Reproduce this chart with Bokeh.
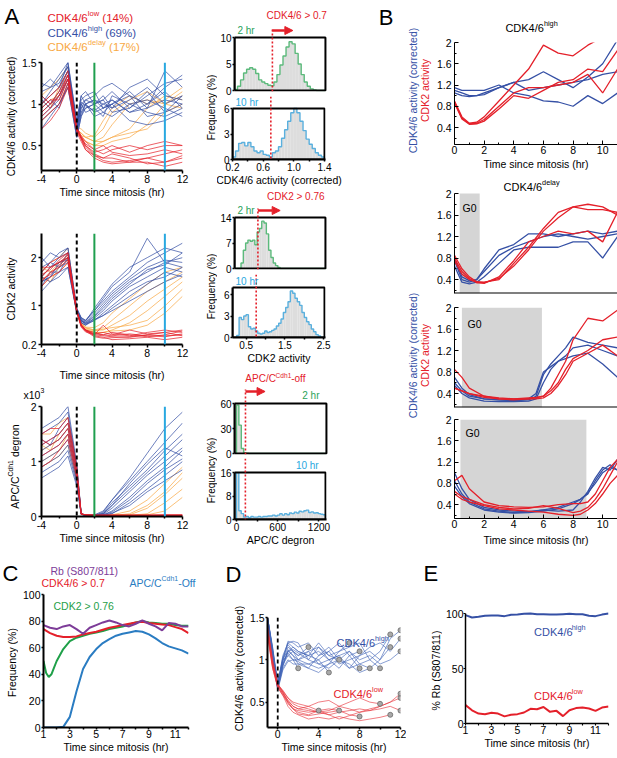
import math
from bokeh.plotting import figure
from bokeh.layouts import row, column
from bokeh.models import Range1d, FixedTicker, Span, Label, Arrow, NormalHead
from bokeh.embed import file_html
from bokeh.resources import INLINE

FONT = "Liberation Sans"
RED = "#e4202a"; BLUE = "#3550a5"; ORANGE = "#f8a945"; VGREEN = "#1f9f4f"; CYAN = "#29a8e0"
HGREEN = "#5cba7c"; HBLUE = "#5ab0de"; HFILL = "#dddddd"; TGREEN = "#2aa25a"
PURPLE = "#7d3c98"; CGREEN = "#1fa049"; CBLUE = "#2a7cc2"
DBLUE = "#4466b8"; DRED = "#e8343c"

# ---------------- data: panel A ----------------
t_A = [-4, -3, -2, -1, 0, 0.5, 1, 2, 3, 4, 6, 8, 10, 12]
a1_high = [
    [1.0, 1.1, 1.2, 1.4, 0.7, 0.95, 1.05, 1.0, 1.1, 0.95, 1.05, 1.2, 1.0, 1.1],
    [0.9, 1.0, 1.1, 1.3, 0.65, 0.9, 1.0, 0.9, 0.95, 1.05, 0.9, 1.0, 1.15, 0.95],
    [1.15, 1.2, 1.25, 1.45, 0.75, 1.05, 1.1, 1.15, 0.95, 1.0, 1.1, 0.85, 0.9, 1.0],
    [0.8, 0.9, 1.0, 1.2, 0.6, 0.85, 0.95, 1.0, 1.05, 0.9, 0.95, 1.1, 1.25, 1.3],
    [1.05, 0.95, 1.1, 1.35, 0.7, 1.0, 0.9, 0.95, 0.85, 1.1, 1.0, 0.9, 0.85, 0.95],
    [1.2, 1.3, 1.2, 1.5, 0.8, 1.1, 1.0, 1.05, 1.0, 0.95, 1.2, 1.3, 1.1, 1.05],
    [0.95, 1.05, 0.95, 1.25, 0.7, 0.95, 1.0, 0.85, 0.9, 1.0, 0.8, 0.75, 0.8, 0.9],
    [1.1, 1.0, 1.15, 1.4, 0.75, 1.0, 1.05, 1.1, 1.2, 1.25, 1.1, 1.0, 1.2, 1.35],
    [0.85, 0.95, 1.05, 1.3, 0.65, 0.9, 0.95, 1.0, 0.9, 0.85, 1.0, 1.05, 0.95, 0.85],
    [1.0, 1.15, 1.3, 1.45, 0.72, 1.02, 0.98, 0.92, 1.0, 1.05, 0.9, 0.95, 1.4, 1.2],
    [0.7, 0.85, 1.0, 1.2, 0.6, 0.85, 1.0, 1.05, 0.95, 1.0, 1.15, 0.95, 1.05, 1.0],
    [1.25, 1.2, 1.35, 1.5, 0.78, 1.1, 1.15, 1.0, 1.05, 1.15, 0.95, 1.15, 0.9, 1.1],
]
a1_delay = [
    [1.0, 1.1, 1.2, 1.4, 0.7, 0.65, 0.6, 0.55, 0.6, 0.75, 1.0, 1.05, 1.0, 1.1],
    [0.9, 1.0, 1.15, 1.35, 0.68, 0.6, 0.55, 0.5, 0.55, 0.6, 0.7, 0.95, 1.1, 1.05],
    [1.1, 1.2, 1.3, 1.45, 0.72, 0.7, 0.65, 0.6, 0.7, 0.9, 1.05, 1.15, 1.0, 0.95],
    [0.8, 0.9, 1.0, 1.25, 0.65, 0.6, 0.55, 0.5, 0.5, 0.55, 0.6, 0.75, 1.0, 1.15],
    [0.95, 1.05, 1.1, 1.3, 0.7, 0.62, 0.6, 0.62, 0.8, 0.95, 1.1, 1.0, 1.05, 1.2],
    [1.05, 0.95, 1.2, 1.4, 0.7, 0.65, 0.6, 0.55, 0.55, 0.6, 0.65, 0.7, 0.9, 1.0],
]
a1_low = [
    [0.9, 1.0, 1.1, 1.3, 0.7, 0.6, 0.5, 0.4, 0.35, 0.35, 0.3, 0.35, 0.4, 0.45],
    [1.0, 1.1, 1.2, 1.4, 0.72, 0.62, 0.55, 0.45, 0.4, 0.45, 0.5, 0.45, 0.5, 0.5],
    [0.8, 0.9, 1.0, 1.25, 0.68, 0.58, 0.45, 0.35, 0.3, 0.28, 0.3, 0.3, 0.25, 0.3],
    [1.1, 1.0, 1.15, 1.35, 0.7, 0.6, 0.5, 0.42, 0.45, 0.5, 0.42, 0.5, 0.55, 0.5],
    [0.7, 0.8, 0.95, 1.2, 0.66, 0.55, 0.45, 0.38, 0.35, 0.4, 0.35, 0.28, 0.3, 0.35],
    [0.95, 1.05, 1.05, 1.3, 0.7, 0.6, 0.52, 0.45, 0.5, 0.42, 0.38, 0.4, 0.45, 0.4],
    [0.85, 0.95, 1.1, 1.35, 0.7, 0.58, 0.48, 0.38, 0.32, 0.3, 0.32, 0.35, 0.3, 0.38],
]
a2_high = [
    [1.6, 1.8, 1.9, 2.0, 0.9, 0.7, 0.65, 0.8, 1.0, 1.2, 1.5, 1.7, 1.9, 2.0],
    [1.5, 1.6, 1.8, 1.9, 0.85, 0.65, 0.6, 0.75, 0.9, 1.1, 1.4, 1.6, 1.8, 1.7],
    [1.8, 1.9, 2.1, 2.2, 0.95, 0.75, 0.7, 0.9, 1.1, 1.3, 1.6, 1.9, 2.1, 2.3],
    [1.4, 1.7, 1.7, 1.8, 0.88, 0.7, 0.62, 0.7, 0.85, 1.0, 1.3, 1.5, 1.6, 1.8],
    [2.0, 1.8, 2.0, 2.1, 0.92, 0.72, 0.66, 0.85, 1.05, 1.25, 1.55, 1.8, 1.95, 1.9],
    [1.6, 1.5, 1.7, 2.0, 0.9, 0.68, 0.64, 0.72, 0.8, 0.95, 1.2, 1.45, 1.7, 1.6],
    [1.7, 1.9, 1.8, 2.1, 0.93, 0.74, 0.68, 0.95, 1.2, 1.45, 1.8, 2.0, 2.2, 2.1],
    [1.5, 1.6, 1.9, 1.95, 0.87, 0.7, 0.63, 0.78, 0.95, 1.15, 1.45, 1.75, 1.85, 2.1],
    [1.3, 1.5, 1.6, 1.8, 0.85, 0.66, 0.6, 0.7, 0.8, 0.9, 1.1, 1.3, 1.5, 1.65],
    [1.9, 2.1, 2.0, 2.2, 0.95, 0.76, 0.7, 0.9, 1.15, 1.4, 1.7, 2.4, 1.9, 1.8],
]
a2_delay = [
    [1.6, 1.8, 1.9, 2.0, 0.9, 0.65, 0.55, 0.5, 0.55, 0.7, 1.0, 1.3, 1.5, 1.7],
    [1.5, 1.7, 1.8, 2.1, 0.88, 0.62, 0.5, 0.45, 0.45, 0.5, 0.65, 0.9, 1.2, 1.5],
    [1.7, 1.9, 2.0, 2.2, 0.92, 0.66, 0.56, 0.55, 0.65, 0.85, 1.15, 1.45, 1.7, 1.8],
    [1.4, 1.6, 1.7, 1.9, 0.86, 0.6, 0.5, 0.45, 0.45, 0.48, 0.5, 0.6, 0.85, 1.2],
    [1.8, 1.7, 1.9, 2.0, 0.9, 0.64, 0.54, 0.5, 0.5, 0.6, 0.8, 1.1, 1.35, 1.6],
    [1.6, 1.5, 1.8, 1.95, 0.88, 0.63, 0.52, 0.48, 0.52, 0.55, 0.6, 0.7, 1.0, 1.35],
]
a2_low = [
    [1.6, 1.8, 1.9, 2.0, 0.9, 0.6, 0.5, 0.4, 0.38, 0.36, 0.35, 0.4, 0.38, 0.4],
    [1.5, 1.7, 1.8, 1.95, 0.88, 0.58, 0.48, 0.42, 0.45, 0.4, 0.5, 0.42, 0.45, 0.5],
    [1.7, 1.9, 2.0, 2.1, 0.9, 0.62, 0.5, 0.38, 0.35, 0.3, 0.32, 0.35, 0.3, 0.35],
    [1.4, 1.6, 1.7, 1.9, 0.86, 0.56, 0.46, 0.4, 0.6, 0.42, 0.38, 0.45, 0.5, 0.45],
    [1.8, 1.8, 1.9, 2.05, 0.92, 0.6, 0.5, 0.45, 0.4, 0.38, 0.42, 0.38, 0.36, 0.42],
    [1.55, 1.65, 1.85, 2.0, 0.88, 0.59, 0.48, 0.36, 0.33, 0.34, 0.36, 0.4, 0.45, 0.38],
    [1.65, 1.75, 1.95, 2.1, 0.9, 0.6, 0.5, 0.42, 0.4, 0.45, 0.4, 0.36, 0.4, 0.48],
]
# APC/C degron, in units of 10^3
a3_high = [
    [1.2, 1.3, 1.4, 1.6, 0.8, 0.05, 0.02, 0.02, 0.05, 0.2, 0.5, 0.8, 1.1, 1.4],
    [1.0, 1.1, 1.2, 1.4, 0.7, 0.05, 0.02, 0.02, 0.03, 0.1, 0.35, 0.65, 0.9, 1.2],
    [1.5, 1.6, 1.7, 1.9, 0.9, 0.06, 0.02, 0.03, 0.1, 0.3, 0.65, 1.0, 1.35, 1.7],
    [0.8, 0.9, 1.0, 1.2, 0.6, 0.04, 0.02, 0.02, 0.02, 0.05, 0.25, 0.5, 0.75, 1.0],
    [1.3, 1.4, 1.5, 1.7, 0.85, 0.05, 0.02, 0.02, 0.06, 0.25, 0.55, 0.85, 1.2, 1.5],
    [1.1, 1.2, 1.3, 1.5, 0.75, 0.05, 0.02, 0.02, 0.04, 0.15, 0.45, 0.75, 1.0, 1.25],
    [1.6, 1.7, 1.8, 2.0, 0.95, 0.06, 0.02, 0.02, 0.08, 0.3, 0.7, 1.15, 1.6, 1.9],
    [0.9, 1.0, 1.1, 1.3, 0.65, 0.04, 0.02, 0.02, 0.03, 0.08, 0.3, 0.6, 0.85, 1.05],
    [1.4, 1.3, 1.6, 1.8, 0.9, 0.05, 0.02, 0.02, 0.05, 0.2, 0.6, 0.95, 1.25, 1.1],
    [0.7, 0.8, 0.9, 1.1, 0.55, 0.04, 0.02, 0.02, 0.02, 0.06, 0.2, 0.45, 0.65, 0.85],
]
a3_delay = [
    [1.2, 1.3, 1.4, 1.6, 0.8, 0.05, 0.02, 0.02, 0.02, 0.02, 0.03, 0.15, 0.4, 0.7],
    [1.0, 1.1, 1.2, 1.5, 0.7, 0.04, 0.02, 0.02, 0.02, 0.02, 0.02, 0.05, 0.25, 0.5],
    [1.5, 1.5, 1.7, 1.8, 0.9, 0.05, 0.02, 0.02, 0.02, 0.03, 0.1, 0.3, 0.6, 0.9],
    [0.9, 1.0, 1.1, 1.3, 0.65, 0.04, 0.02, 0.02, 0.02, 0.02, 0.02, 0.03, 0.1, 0.35],
    [1.3, 1.2, 1.5, 1.7, 0.85, 0.05, 0.02, 0.02, 0.02, 0.02, 0.05, 0.2, 0.45, 0.8],
]
a3_low = [
    [1.3, 1.4, 1.5, 1.7, 0.85, 0.05, 0.03, 0.02, 0.02, 0.02, 0.02, 0.02, 0.02, 0.02],
    [1.1, 1.2, 1.3, 1.5, 0.75, 0.04, 0.03, 0.02, 0.02, 0.02, 0.02, 0.03, 0.02, 0.03],
    [1.5, 1.6, 1.6, 1.8, 0.9, 0.05, 0.03, 0.03, 0.02, 0.03, 0.02, 0.02, 0.03, 0.02],
    [0.9, 1.0, 1.2, 1.4, 0.7, 0.04, 0.03, 0.02, 0.02, 0.02, 0.03, 0.02, 0.02, 0.02],
    [1.4, 1.3, 1.4, 1.6, 0.8, 0.05, 0.03, 0.02, 0.03, 0.02, 0.02, 0.02, 0.03, 0.03],
]
mark_times = [0, 2, 10]

# ---------------- data: histograms ----------------
h1_start, h1_width = 0.2, 0.04
h1_2hr = [0.2, 0.8, 2.0, 3.3, 4.0, 4.3, 4.0, 3.2, 2.0, 1.6, 1.3, 1.0, 0.9, 1.6, 3.0,
          4.8, 6.5, 8.2, 9.2, 8.8, 7.0, 5.0, 3.0, 1.6, 0.8, 0.3, 0.1, 0, 0, 0]
h1_10hr = [0.3, 1.0, 1.9, 2.0, 1.6, 2.0, 1.5, 1.0, 0.8, 1.0, 0.6, 0.5, 0.3, 0.8, 1.0,
           1.5, 2.5, 3.5, 4.5, 5.5, 6.0, 5.5, 4.5, 3.4, 2.4, 1.8, 1.3, 0.8, 0.5, 0.3]
h1_thr = 0.7
h2_start, h2_width = 0.2, 0.06
h2_2hr = [0, 0, 1.5, 5.0, 7.0, 7.8, 7.5, 7.8, 6.5, 10.0, 11.0, 13.0, 12.5, 9.5, 5.0, 3.0,
          1.5, 0.8, 0.3, 0, 0, 0, 0, 0, 0, 0, 0, 0, 0, 0, 0, 0, 0, 0, 0, 0, 0, 0, 0]
h2_10hr = [0, 0.3, 2.8, 2.5, 3.0, 3.2, 1.5, 1.2, 1.3, 0.9, 0.6, 0.5, 0.6, 0.9, 0.7, 0.8,
           1.0, 1.2, 1.6, 2.0, 2.6, 3.5, 4.2, 5.0, 6.5, 6.2, 5.5, 5.0, 4.5, 3.5, 2.8, 2.2,
           1.8, 1.2, 0.8, 0.4, 0.2, 0, 0]
h2_thr = 0.76
h3_start, h3_width = 0, 35
h3_2hr = [58, 34, 6, 1, 0.3, 0, 0, 0, 0, 0, 0, 0, 0, 0, 0, 0, 0, 0, 0, 0, 0, 0, 0, 0,
          0, 0, 0, 0, 0, 0, 0, 0, 0, 0, 0, 0, 0]
h3_10hr = [16, 3, 2, 0.8, 1.0, 0.6, 1.0, 0.8, 0.8, 1.0, 0.8, 1.0, 1.0, 1.2, 1.2, 1.5,
           1.2, 1.5, 2.0, 1.5, 2.0, 1.6, 2.2, 2.0, 2.5, 2.2, 2.8, 2.6, 3.0, 3.2, 2.4,
           2.6, 2.2, 2.3, 2.0, 1.8, 1.6]
h3_thr = 130

# ---------------- data: panel B ----------------
t_B = [0, 0.5, 1, 1.5, 2, 3, 4, 5, 6, 7, 8, 9, 10, 11]
b1_cdk46 = [
    [1.1, 1.05, 1.0, 1.0, 1.05, 1.15, 1.25, 1.3, 1.45, 1.3, 1.15, 1.35, 1.6, 2.05],
    [1.15, 1.1, 1.1, 1.1, 1.1, 1.2, 1.05, 1.0, 0.9, 0.88, 0.8, 1.0, 0.85, 1.05],
    [1.05, 1.0, 0.98, 1.0, 1.02, 1.15, 1.25, 1.1, 1.15, 1.2, 1.25, 1.3, 1.4, 1.45],
]
b1_cdk2 = [
    [0.9, 0.6, 0.48, 0.5, 0.6, 0.9, 1.2, 1.5, 1.95, 1.8, 1.75, 1.95, 2.1, 2.2],
    [0.88, 0.58, 0.47, 0.48, 0.55, 0.8, 1.05, 1.15, 1.15, 1.2, 1.25, 1.4, 1.05, 1.5],
    [0.86, 0.56, 0.46, 0.47, 0.52, 0.75, 1.0, 0.95, 1.1, 1.25, 1.3, 1.5, 1.45, 1.85],
]
b2_cdk46 = [
    [0.75, 0.4, 0.35, 0.4, 0.55, 0.85, 1.0, 1.1, 1.2, 1.25, 1.2, 1.15, 1.2, 1.25],
    [0.65, 0.35, 0.32, 0.35, 0.45, 0.7, 0.95, 1.0, 1.0, 1.0, 1.1, 1.1, 0.8, 1.2],
    [0.8, 0.45, 0.38, 0.4, 0.6, 0.95, 1.05, 1.25, 1.25, 1.2, 1.25, 1.3, 1.25, 1.3],
]
b2_cdk2 = [
    [0.85, 0.6, 0.45, 0.36, 0.35, 0.4, 0.7, 1.0, 1.35, 1.65, 1.75, 1.8, 1.75, 1.6],
    [0.8, 0.55, 0.42, 0.34, 0.34, 0.42, 0.65, 0.95, 1.3, 1.55, 1.75, 1.7, 1.7, 1.65],
    [0.75, 0.5, 0.4, 0.35, 0.33, 0.45, 0.75, 1.1, 1.2, 1.3, 1.25, 1.3, 1.1, 1.65],
]
t_B3 = [0, 0.5, 1, 2, 3, 4, 5, 5.5, 6, 6.5, 7, 7.5, 8, 9, 10, 11]
b3_cdk46 = [
    [0.6, 0.45, 0.35, 0.3, 0.28, 0.27, 0.28, 0.35, 0.75, 0.95, 1.1, 1.25, 1.45, 1.35, 1.3, 1.25],
    [0.55, 0.4, 0.32, 0.26, 0.25, 0.25, 0.26, 0.3, 0.6, 0.85, 1.0, 1.05, 1.1, 1.15, 0.95, 0.7],
    [0.7, 0.5, 0.38, 0.3, 0.28, 0.27, 0.3, 0.4, 0.8, 0.9, 1.0, 1.1, 1.25, 1.3, 1.2, 1.1],
]
b3_cdk2 = [
    [0.85, 0.7, 0.5, 0.35, 0.32, 0.3, 0.32, 0.33, 0.35, 0.5, 0.75, 1.0, 1.4, 1.8, 1.75, 1.95],
    [0.5, 0.45, 0.4, 0.35, 0.3, 0.3, 0.3, 0.32, 0.35, 0.45, 0.6, 0.85, 1.05, 1.2, 1.4, 1.45],
    [0.5, 0.45, 0.4, 0.33, 0.3, 0.28, 0.3, 0.3, 0.32, 0.4, 0.55, 0.75, 1.0, 1.15, 1.3, 1.1],
]
t_B4 = [0, 0.5, 1, 2, 3, 4, 5, 6, 7, 8, 8.5, 9, 9.5, 10, 10.5, 11]
b4_cdk46 = [
    [1.0, 0.7, 0.5, 0.35, 0.3, 0.28, 0.27, 0.3, 0.35, 0.45, 0.5, 0.6, 0.85, 1.05, 1.15, 1.05],
    [0.85, 0.6, 0.45, 0.32, 0.28, 0.25, 0.26, 0.3, 0.28, 0.3, 0.45, 0.65, 0.9, 1.1, 1.05, 1.25],
    [0.75, 0.55, 0.42, 0.3, 0.26, 0.24, 0.25, 0.28, 0.32, 0.42, 0.5, 0.62, 0.8, 1.0, 1.1, 1.05],
]
b4_cdk2 = [
    [0.85, 0.95, 0.7, 0.45, 0.38, 0.36, 0.35, 0.36, 0.4, 0.42, 0.42, 0.45, 0.6, 0.85, 1.1, 1.25],
    [0.65, 0.55, 0.5, 0.4, 0.35, 0.32, 0.33, 0.38, 0.33, 0.25, 0.28, 0.35, 0.5, 0.7, 0.95, 1.2],
    [0.6, 0.5, 0.45, 0.38, 0.32, 0.3, 0.28, 0.26, 0.22, 0.2, 0.22, 0.3, 0.42, 0.6, 0.8, 0.95],
]
g0_start = [0.35, 0.5, 0.4]
g0_end = [1.7, 5.9, 8.9]

# ---------------- data: panel C ----------------
t_C = [1, 1.5, 2, 2.5, 3, 3.5, 4, 4.5, 5, 5.5, 6, 6.5, 7, 7.5, 8, 8.5, 9, 9.5, 10, 10.5, 11, 11.5, 12]
c_rb = [77, 75, 74, 76, 77, 74, 70.5, 75, 77, 79, 80.5, 79, 77, 76, 78, 80.5, 78, 76, 73, 78.5, 78, 76, 76]
c_cdk46 = [74, 71, 69, 68, 68, 68.5, 70, 71, 72, 73.5, 75, 76, 77, 78, 79, 79.5, 78.5, 78, 77.5, 77, 75.5, 74, 71]
c_apc = [0, 0, 0, 0.5, 8, 27, 44, 53, 59, 63.5, 66.5, 69, 70.5, 71.5, 72.5, 72, 70, 67, 63.5, 61, 59.5, 58, 55.5]
t_C2 = [1, 1.2, 1.4, 1.6, 1.8, 2, 2.5, 3, 3.5, 4, 4.5, 5, 5.5, 6, 6.5, 7, 7.5, 8, 8.5, 9, 9.5, 10, 10.5, 11, 11.5, 12]
c_cdk2 = [50, 41, 38, 40, 45, 50, 59, 65, 67.5, 69, 70.5, 71.5, 72.5, 74, 75, 76, 77.5, 79, 80, 79, 78.5, 78, 78, 77, 76.5, 76.5]

# ---------------- data: panel D ----------------
t_D = [-1, -0.5, 0, 0.5, 1, 1.5, 2, 3, 4, 5, 6, 7, 8, 9, 10, 11, 12]
d_high = [
    [1.5, 1.1, 0.7, 1.0, 1.2, 1.15, 1.1, 1.05, 1.0, 1.1, 0.95, 1.0, 1.05, 1.15, 1.2, 1.1, 1.25],
    [1.45, 1.05, 0.68, 0.95, 1.1, 1.05, 1.0, 1.1, 1.15, 1.0, 1.05, 0.9, 0.95, 1.0, 1.1, 1.3],
    [1.5, 1.15, 0.72, 1.05, 1.2, 1.22, 1.2, 1.0, 0.95, 0.9, 1.0],
    [1.4, 1.0, 0.65, 0.9, 1.0, 0.95, 0.95, 0.9, 1.05, 1.1, 1.2, 1.05, 0.9],
    [1.5, 1.12, 0.7, 1.0, 1.05, 1.1, 1.05, 1.15],
    [1.48, 1.08, 0.66, 0.92, 1.12, 1.05, 0.95, 0.95, 0.9, 0.95, 1.1, 1.15, 1.2, 1.0, 0.9],
    [1.5, 1.1, 0.7, 1.0, 1.22, 1.2, 1.15, 1.2, 1.05, 1.15, 1.0, 0.95, 0.85, 0.9, 1.0, 1.25, 1.35],
    [1.42, 1.02, 0.64, 0.88, 0.98, 1.0, 1.0, 0.95, 1.0, 0.85],
    [1.5, 1.14, 0.72, 1.02, 1.1, 1.15, 1.1, 1.05, 1.2, 1.05, 1.0, 1.1, 0.95, 0.9],
    [1.46, 1.06, 0.68, 0.96, 1.08, 1.0, 0.9],
    [1.5, 1.1, 0.69, 0.98, 1.15, 1.1, 1.05, 1.1, 0.95, 1.0, 1.05, 1.1, 1.0, 1.05, 0.95, 1.0, 1.1],
    [1.47, 1.07, 0.67, 0.94, 1.05, 1.0, 0.98, 0.9, 0.85, 0.95, 1.0, 0.9, 1.05, 1.1, 1.0, 1.15],
    [1.5, 1.12, 0.71, 1.03, 1.18, 1.1, 1.0, 1.05, 1.1, 1.0, 0.9, 1.05, 1.1],
    [1.44, 1.04, 0.66, 0.93, 1.1, 1.12, 1.08, 1.0, 1.15, 1.05, 1.1, 1.2],
]
d_low = [
    [1.4, 1.0, 0.72, 0.62, 0.5, 0.42, 0.4, 0.38, 0.4, 0.35, 0.38, 0.4, 0.42, 0.4, 0.45, 0.5, 0.55],
    [1.35, 0.95, 0.7, 0.6, 0.52, 0.45, 0.42, 0.45, 0.4, 0.42, 0.4],
    [1.3, 0.9, 0.68, 0.58, 0.45, 0.38, 0.35, 0.3, 0.32, 0.3, 0.33, 0.3, 0.28, 0.3, 0.32, 0.35],
    [1.38, 0.98, 0.71, 0.64, 0.55, 0.5, 0.48, 0.45, 0.5, 0.52, 0.45, 0.5, 0.55, 0.5, 0.48],
    [1.32, 0.92, 0.69, 0.6, 0.48, 0.42, 0.38, 0.35, 0.4],
    [1.36, 0.96, 0.7, 0.63, 0.55, 0.48, 0.45, 0.42, 0.38, 0.4, 0.45, 0.42, 0.38, 0.4, 0.42, 0.45, 0.4],
    [1.28, 0.9, 0.67, 0.58, 0.5, 0.42, 0.36, 0.34, 0.36, 0.38, 0.4, 0.35, 0.33],
    [1.34, 0.94, 0.7, 0.62, 0.52, 0.45, 0.42, 0.4, 0.38, 0.35, 0.3, 0.34, 0.38, 0.42, 0.45, 0.5, 0.6],
]

# ---------------- data: panel E ----------------
t_E = [1, 1.5, 2, 2.5, 3, 3.5, 4, 4.5, 5, 5.5, 6, 6.5, 7, 7.5, 8, 8.5, 9, 9.5, 10, 10.5, 11, 11.5, 12]
e_high = [98.5, 96.4, 97, 98, 98.2, 98.2, 97.6, 98.8, 99, 99.7, 100, 99.4, 99.4, 99, 99, 99.4, 99.7, 99.4, 99.4, 98, 97.6, 99, 100]
e_low = [16.7, 12, 9, 8.5, 9.7, 9, 6.5, 8, 8.5, 10, 13.3, 13, 15, 10.6, 11.5, 6.7, 12, 14, 14.5, 13.6, 11.5, 14.5, 15.5]

# ---------------- helpers ----------------
AW = {' ': 278, '%': 889, '(': 333, ')': 333, '/': 278, '.': 278, '-': 333, '>': 584,
      'A': 667, 'B': 667, 'C': 722, 'D': 722, 'E': 667, 'F': 611, 'G': 778, 'K': 667,
      'O': 778, 'P': 667, 'R': 722, 'S': 667, 'T': 611, 'a': 556, 'b': 556, 'c': 500,
      'd': 556, 'e': 556, 'f': 278, 'g': 556, 'h': 556, 'i': 222, 'l': 222, 'm': 833,
      'n': 556, 'o': 556, 'r': 333, 's': 500, 't': 278, 'u': 556, 'v': 500, 'w': 722,
      'x': 500, 'y': 500}


def tw(s, size):
    return sum(AW.get(c, 556) for c in s) / 1000.0 * size


def xr_from(px0, px1, d0, d1, f0, f1):
    s = (px1 - px0) / (d1 - d0)
    return (d0 - (px0 - f0) / s, d1 + (f1 - px1) / s)


def yr_from(pb, pt, d0, d1, fb, ft):
    s = (pb - pt) / (d1 - d0)
    return (d0 - (fb - pb) / s, d1 + (pt - ft) / s)


class Panel:
    def __init__(self, canvas, frame, xr, yr, xaxis=True, yaxis=True):
        self.canvas, self.frame, self.xr, self.yr = canvas, frame, xr, yr
        cx0, cy0, cx1, cy1 = canvas
        fx0, fy0, fx1, fy1 = frame
        p = figure(width=cx1 - cx0, height=cy1 - cy0,
                   x_range=Range1d(start=xr[0], end=xr[1]), y_range=Range1d(start=yr[0], end=yr[1]),
                   output_backend="svg", toolbar_location=None, title=None,
                   x_axis_location="below" if xaxis else None,
                   y_axis_location="left" if yaxis else None,
                   min_border_left=fx0 - cx0, min_border_right=cx1 - fx1,
                   min_border_top=fy0 - cy0, min_border_bottom=cy1 - fy1)
        p.xgrid.grid_line_color = None
        p.ygrid.grid_line_color = None
        p.outline_line_color = None
        self.p = p

    def X(self, xi):
        fx0, fy0, fx1, fy1 = self.frame
        a, b = self.xr
        return a + (xi - fx0) / (fx1 - fx0) * (b - a)

    def Y(self, yi):
        fx0, fy0, fx1, fy1 = self.frame
        a, b = self.yr
        return b - (yi - fy0) / (fy1 - fy0) * (b - a)


def WR(P):
    # child of a column: wrap in a row so sibling frames are not aligned
    return row(P.p)


def WC(P):
    # child of a row: wrap in a column so sibling frames are not aligned
    return column(P.p)


def label_panel(x0, y0, x1, y1):
    return Panel((x0, y0, x1, y1), (x0, y0, x1, y1), (x0, x1), (y1, y0), xaxis=False, yaxis=False)


def txt(P, xi, yi, text, size, color="black", align="left", angle=0.0):
    P.p.add_layout(Label(x=P.X(xi), y=P.Y(yi), text=text, text_font=FONT,
                         text_font_size="%.1fpx" % size, text_color=color,
                         text_align=align, text_baseline="middle", angle=angle))


def rich(P, xi, yi, segs, size, color, align="left", vertical=False):
    sizes = [size * 0.66 if sup else size for _, sup in segs]
    widths = [tw(t, s) for (t, _), s in zip(segs, sizes)]
    total = sum(widths)
    pos = -{"left": 0, "center": total / 2, "right": total}[align]
    for (t, sup), s, w in zip(segs, sizes, widths):
        shift = size * 0.34 if sup else 0
        lead = len(t) - len(t.lstrip(" "))
        p0 = pos + tw(" " * lead, s)
        t = t.lstrip(" ")
        if vertical:
            txt(P, xi - shift, yi - p0, t, s, color, "left", math.pi / 2)
        else:
            txt(P, xi + p0, yi - shift, t, s, color, "left")
        pos += w


def ax_style(ax, ticks, labels, minor=None, lw=1.5, tin=0, tout=3, fs=10.5,
             standoff=1, mtin=0, mtout=2, bounds=None):
    ax.ticker = FixedTicker(ticks=ticks, minor_ticks=minor or [])
    ax.axis_line_width = lw
    ax.axis_line_color = "black"
    ax.major_tick_line_width = max(1, lw * 0.75)
    ax.major_tick_line_color = "black"
    ax.major_tick_in = tin
    ax.major_tick_out = tout
    ax.minor_tick_in = mtin
    ax.minor_tick_out = mtout
    ax.minor_tick_line_width = max(1, lw * 0.75)
    ax.minor_tick_line_color = "black" if minor else None
    ax.major_label_text_font = FONT
    ax.major_label_text_color = "black"
    ax.major_label_text_font_size = "%.1fpx" % fs
    ax.major_label_standoff = standoff
    ax.major_label_overrides = {float(t): l for t, l in zip(ticks, labels)}
    if bounds is not None:
        ax.bounds = bounds


def ax_title(ax, text, size=10.5, standoff=0):
    ax.axis_label = text
    ax.axis_label_text_font = FONT
    ax.axis_label_text_font_size = "%.1fpx" % size
    ax.axis_label_text_font_style = "normal"
    ax.axis_label_text_color = "black"
    ax.axis_label_standoff = standoff


def traces(P, t, ys, color, lw=0.8, alpha=0.9):
    P.p.multi_line(xs=[t[:len(y)] for y in ys], ys=ys, line_color=color,
                   line_width=lw, line_alpha=alpha)


def hist(P, start, width, vals, color, box):
    n = len(vals)
    left = [start + i * width for i in range(n)]
    right = [start + (i + 1) * width for i in range(n)]
    P.p.quad(left=left, right=right, bottom=0, top=vals, fill_color=HFILL, line_color=None)
    xs, ys = [left[0]], [0]
    for l, r, v in zip(left, right, vals):
        xs += [l, r]
        ys += [v, v]
    xs.append(right[-1])
    ys.append(0)
    P.p.line(xs, ys, line_color=color, line_width=1.4)
    P.p.quad(left=box[0], right=box[1], bottom=0, top=box[2], fill_color=None,
             line_color="black", line_width=2)


# ---------------- Panel A ----------------
headA = label_panel(0, 0, 205, 56)
A1 = Panel((0, 56, 205, 200), (41, 62, 182, 172), (-4, 12), (0.2, 1.5))
A2 = Panel((0, 200, 205, 384), (41, 233, 182, 344), (-4, 12), (0.2, 2.5))
stripX = label_panel(0, 384, 205, 400)
stripA3 = label_panel(0, 400, 22, 548)
A3 = Panel((22, 400, 205, 548), (41, 406, 182, 516), (-4, 12), (0, 2))
for P, hi, de, lo in [(A1, a1_high, a1_delay, a1_low), (A2, a2_high, a2_delay, a2_low),
                      (A3, a3_high, a3_delay, a3_low)]:
    traces(P, t_A, de, ORANGE)
    traces(P, t_A, hi, BLUE)
    traces(P, t_A, lo, RED)
    P.p.add_layout(Span(location=mark_times[0], dimension="height", line_color="black",
                        line_dash="4 3", line_width=2))
    P.p.add_layout(Span(location=mark_times[1], dimension="height", line_color=VGREEN, line_width=2))
    P.p.add_layout(Span(location=mark_times[2], dimension="height", line_color=CYAN, line_width=2))
    ax_style(P.p.xaxis[0], [-4, 0, 4, 8, 12], ["-4", "0", "4", "8", "12"],
             minor=[-2, 2, 6, 10], lw=2)
ax_style(A1.p.yaxis[0], [0.5, 1, 1.5], ["0.5", "1", "1.5"], lw=2, standoff=2)
ax_style(A2.p.yaxis[0], [0.2, 1, 2], ["0.2", "1", "2"], lw=2, standoff=2)
ax_style(A3.p.yaxis[0], [0, 1, 2], ["0", "1", "2"], lw=2, standoff=2)
ax_title(A1.p.yaxis[0], "CDK4/6 activity (corrected)", 10, standoff=2)
ax_title(A2.p.yaxis[0], "CDK2 activity", 10.5, standoff=2)
ax_title(A1.p.xaxis[0], "Time since mitosis (hr)", 10.5, 0)
ax_title(A2.p.xaxis[0], "Time since mitosis (hr)", 10.5, 9)
ax_title(A3.p.xaxis[0], "Time since mitosis (hr)", 10.5, 0)

txt(headA, 4, 16, "A", 22)
rich(headA, 47, 17, [("CDK4/6", 0), ("low", 1), (" (14%)", 0)], 11.5, RED)
rich(headA, 47, 32, [("CDK4/6", 0), ("high", 1), (" (69%)", 0)], 11.5, BLUE)
rich(headA, 47, 46, [("CDK4/6", 0), ("delay", 1), (" (17%)", 0)], 11.5, ORANGE)
rich(stripX, 23, 394, [("x10", 0), ("3", 1)], 10.5, "black")
rich(stripA3, 14, 466, [("APC/C", 0), ("Cdh1", 1), (" degron", 0)], 10.5, "black",
     align="center", vertical=True)

# ---------------- Histograms ----------------
HS = dict(lw=2, fs=10, tout=2, standoff=1)
HR = 406  # right edge of the histogram column


def hist_pair(lab_rect, top_c, top_f, top_box_px, bot_c, bot_f, bot_box_px, xd, ytop, ybot,
              start, width, v2, v10, thr, xt, xl, xm, yt_t, yl_t, yt_b, yl_b, xtitle):
    L = label_panel(*lab_rect)
    bx0, bx1 = top_box_px[0], top_box_px[1]
    xr_t = xr_from(bx0, bx1, xd[0], xd[1], top_f[0], top_f[2])
    yr_t = yr_from(top_box_px[3], top_box_px[2], 0, ytop, top_f[3], top_f[1])
    T = Panel(top_c, top_f, xr_t, yr_t, xaxis=False)
    xr_b = xr_from(bx0, bx1, xd[0], xd[1], bot_f[0], bot_f[2])
    yr_b = yr_from(bot_box_px[1], bot_box_px[0], 0, ybot, bot_f[3], bot_f[1])
    B = Panel(bot_c, bot_f, xr_b, yr_b)
    hist(T, start, width, v2, HGREEN, (xd[0], xd[1], ytop))
    hist(B, start, width, v10, HBLUE, (xd[0], xd[1], ybot))
    B.p.add_layout(Span(location=thr, dimension="height", line_color=RED,
                        line_dash="2 2", line_width=1.6))
    ax_style(T.p.yaxis[0], yt_t, yl_t, bounds=(0, ytop), **HS)
    ax_style(B.p.yaxis[0], yt_b, yl_b, bounds=(0, ybot), **HS)
    ax_style(B.p.xaxis[0], xt, xl, minor=xm, **HS)
    ax_title(B.p.xaxis[0], xtitle, 10.5, 0)
    return L, T, B


L1, H1t, H1b = hist_pair((205, 0, 217, 188), (217, 0, HR, 96), (232, 0, HR, 91),
                         (232, 324, 37, 90), (217, 96, HR, 188), (232, 96, 325, 159),
                         (108, 159), (0.2, 1.4), 10, 6, h1_start, h1_width, h1_2hr, h1_10hr,
                         h1_thr, [0.2, 0.6, 1.0, 1.4], ["0.2", "0.6", "1.0", "1.4"],
                         [0.4, 0.8, 1.2], [0, 5, 10], ["0", "5", "10"], [0, 3, 6],
                         ["0", "3", "6"], "CDK4/6 activity (corrected)")
L2, H2t, H2b = hist_pair((205, 188, 217, 368), (217, 188, HR, 274), (232, 188, HR, 269),
                         (232, 324, 217, 268), (217, 274, HR, 368), (232, 274, 325, 337),
                         (287, 337), (0.15, 2.52), 14, 7, h2_start, h2_width, h2_2hr, h2_10hr,
                         h2_thr, [0.5, 1.5, 2.5], ["0.5", "1.5", "2.5"], [1.0, 2.0],
                         [0, 7, 14], ["0", "7", "14"], [0, 3, 6], ["0", "3", "6"],
                         "CDK2 activity")
L3, H3t, H3b = hist_pair((205, 368, 217, 548), (217, 368, HR, 458), (232, 368, HR, 454),
                         (232, 325, 403, 453), (217, 458, HR, 548), (232, 458, 326, 523),
                         (473, 523), (-28, 1295), 60, 16, h3_start, h3_width, h3_2hr, h3_10hr,
                         h3_thr, [0, 600, 1200], ["0", "600", "1200"], [300, 900],
                         [0, 30, 60], ["0", "30", "60"], [0, 8, 16], ["0", "8", "16"],
                         "APC/C degron")


def thr_arrow(P, thr, y_img, x_end):
    ya = P.Y(y_img)
    P.p.segment(x0=[thr], y0=[P.yr[0]], x1=[thr], y1=[P.Y(y_img - 2)], line_color=RED,
                line_dash="2 2", line_width=1.6)
    P.p.add_layout(Arrow(end=NormalHead(size=8, fill_color=RED, line_color=RED),
                         x_start=thr, y_start=ya, x_end=x_end, y_end=ya,
                         line_color=RED, line_width=2.5))


thr_arrow(H1t, h1_thr, 30, 0.97)
thr_arrow(H2t, h2_thr, 210, 1.34)
thr_arrow(H3t, h3_thr, 391, 412)

txt(H1t, 378, 17, "B", 22)
txt(H1t, 295, 15, "CDK4/6 > 0.7", 10, RED, "center")
txt(H1t, 235, 30, "2 hr", 10, TGREEN)
txt(H1b, 235, 102, "10 hr", 10, CYAN)
txt(L1, 211, 107, "Frequency (%)", 10, align="center", angle=math.pi / 2)

txt(H2t, 294, 196, "CDK2 > 0.76", 10, RED, "center")
txt(H2t, 235, 210, "2 hr", 10, TGREEN)
txt(H2b, 235, 281, "10 hr", 10, CYAN)
txt(L2, 211, 286, "Frequency (%)", 10, align="center", angle=math.pi / 2)

rich(H3t, 243, 378, [("APC/C", 0), ("Cdh1", 1), ("-off", 0)], 10, RED)
txt(H3t, 318, 395, "2 hr", 10, TGREEN, "right")
txt(H3b, 318, 465, "10 hr", 10, CYAN, "right")
txt(L3, 211, 470, "Frequency (%)", 10, align="center", angle=math.pi / 2)

# ---------------- Panel B ----------------
BL = 432  # left edge of panel B figures
stripB1 = label_panel(HR, 0, BL, 172)
headB1 = label_panel(BL, 0, 617, 36)
B1 = Panel((BL, 36, 617, 172), (454, 42, 617, 144), (0, 11), (0.08, 2.0))
stripB = label_panel(HR, 172, BL, 548)
B2 = Panel((BL, 172, 617, 300), (454, 172, 617, 293), (0, 11),
           yr_from(293, 193, 0.14, 2.0, 293, 172), xaxis=False)
B3 = Panel((BL, 300, 617, 412), (454, 307, 617, 407), (0, 11), (0.14, 2.0), xaxis=False)
B4 = Panel((BL, 412, 617, 548), (454, 419, 617, 520), (0, 11), (0.14, 2.0))

for i, (P, t, bl, rd) in enumerate([(B2, t_B, b2_cdk46, b2_cdk2), (B3, t_B3, b3_cdk46, b3_cdk2),
                                    (B4, t_B4, b4_cdk46, b4_cdk2)]):
    P.p.quad(left=g0_start[i], right=g0_end[i], bottom=0.14, top=2.0,
             fill_color="#d5d5d5", line_color=None)
    traces(P, t, bl, BLUE, lw=1.3, alpha=1)
    traces(P, t, rd, RED, lw=1.3, alpha=1)
traces(B1, t_B, b1_cdk46, BLUE, lw=1.3, alpha=1)
traces(B1, t_B, b1_cdk2, RED, lw=1.3, alpha=1)
for P in [B2, B3]:
    P.p.segment(x0=[0], y0=[0.14], x1=[11], y1=[0.14], line_color="black", line_width=2)

BYT = [0.4, 0.8, 1.2, 1.6, 2.0]
BYL = ["0.4", "0.8", "1.2", "1.6", "2"]
BYM = [0.2, 0.6, 1.0, 1.4, 1.8]
BXT = [0, 2, 4, 6, 8, 10]
BXL = ["0", "2", "4", "6", "8", "10"]
BXM = [1, 3, 5, 7, 9]
for P in [B1, B2, B3, B4]:
    ax_style(P.p.yaxis[0], BYT, BYL, minor=BYM, lw=1, tin=4, tout=0, mtin=2, mtout=0,
             fs=10.5, standoff=3, bounds=(P.yr[0] if P is B1 else 0.14, 2.0))
for P in [B1, B4]:
    ax_style(P.p.xaxis[0], BXT, BXL, minor=BXM, lw=1, tin=4, tout=0, mtin=2, mtout=0, fs=10.5)
ax_title(B1.p.xaxis[0], "Time since mitosis (hr)", 10.5, 1)
ax_title(B4.p.xaxis[0], "Time since mitosis (hr)", 10.5, 3)

rich(headB1, 531, 27, [("CDK4/6", 0), ("high", 1)], 11, "black", align="center")
txt(stripB1, 412.5, 90, "CDK4/6 activity (corrected)", 10.5, BLUE, "center", math.pi / 2)
txt(stripB1, 424.5, 90, "CDK2 activity", 10.5, RED, "center", math.pi / 2)
rich(B2, 531, 186, [("CDK4/6", 0), ("delay", 1)], 11, "black", align="center")
txt(B2, 462, 207, "G0", 10.5)
txt(B3, 467, 323, "G0", 10.5)
txt(B4, 465, 433, "G0", 10.5)
txt(stripB, 412.5, 355, "CDK4/6 activity (corrected)", 10.5, BLUE, "center", math.pi / 2)
txt(stripB, 424.5, 355, "CDK2 activity", 10.5, RED, "center", math.pi / 2)

# ---------------- Panel C ----------------
stripC = label_panel(0, 548, 18, 758)
headC = label_panel(18, 548, 205, 588)
C = Panel((18, 588, 205, 758), (43, 594, 188, 727), (1, 12), (0, 100))
C.p.line(t_C, c_apc, line_color=CBLUE, line_width=2)
C.p.line(t_C2, c_cdk2, line_color=CGREEN, line_width=2)
C.p.line(t_C, c_cdk46, line_color=RED, line_width=2)
C.p.line(t_C, c_rb, line_color=PURPLE, line_width=2)
ax_style(C.p.xaxis[0], [1, 3, 5, 7, 9, 11], ["1", "3", "5", "7", "9", "11"],
         minor=[2, 4, 6, 8, 10, 12], lw=2, tout=2, standoff=0)
ax_style(C.p.yaxis[0], [0, 20, 40, 60, 80, 100], ["0", "20", "40", "60", "80", "100"], lw=2,
         tout=2, standoff=1)
ax_title(C.p.xaxis[0], "Time since mitosis (hr)", 10.5, 0)
txt(stripC, 2, 573, "C", 22)
txt(stripC, 11, 662, "Frequency (%)", 10.5, align="center", angle=math.pi / 2)
txt(headC, 50, 570, "Rb (S807/811)", 10.5, PURPLE)
txt(headC, 41, 582, "CDK4/6 > 0.7", 10.5, RED)
rich(headC, 129, 582, [("APC/C", 0), ("Cdh1", 1), ("-Off", 0)], 10.5, CBLUE)
txt(C, 53, 605, "CDK2 > 0.76", 10.5, CGREEN)

# ---------------- Panel D ----------------
stripD = label_panel(205, 548, 245, 758)
D = Panel((245, 548, HR, 758), (267, 617, 400, 727), (-1, 12), (0.2, 1.5))
traces(D, t_D, d_high, DBLUE, lw=0.8, alpha=0.8)
traces(D, t_D, d_low, DRED, lw=0.8, alpha=0.8)
ends = d_high + d_low
D.p.scatter(x=[t_D[len(y) - 1] for y in ends], y=[y[-1] for y in ends], size=5,
            marker="circle", fill_color="#a8a8a8", line_color="#6a6a6a", line_width=0.8)
D.p.add_layout(Span(location=mark_times[0], dimension="height", line_color="black",
                    line_dash="4 3", line_width=1.8))
ax_style(D.p.xaxis[0], [0, 4, 8, 12], ["0", "4", "8", "12"], minor=[2, 6, 10], lw=2,
         tout=2, standoff=0)
ax_style(D.p.yaxis[0], [0.5, 1, 1.5], ["0.5", "1", "1.5"], lw=2, tout=2, standoff=1)
ax_title(D.p.xaxis[0], "Time since mitosis (hr)", 10.5, 0)
txt(stripD, 225, 574, "D", 22)
txt(stripD, 238, 668, "CDK4/6 activity (corrected)", 10.5, align="center", angle=math.pi / 2)
rich(D, 336, 642, [("CDK4/6", 0), ("high", 1)], 11, BLUE)
rich(D, 333, 693, [("CDK4/6", 0), ("low", 1)], 11, RED)

# ---------------- Panel E ----------------
stripE = label_panel(HR, 548, 442, 758)
E = Panel((442, 548, 617, 758), (462, 548, 608, 723), (1, 12),
          yr_from(723, 613, 0, 100, 723, 548))
E.p.line(t_E, e_high, line_color=BLUE, line_width=2)
E.p.line(t_E, e_low, line_color=RED, line_width=2)
ax_style(E.p.xaxis[0], [1, 3, 5, 7, 9, 11], ["1", "3", "5", "7", "9", "11"],
         minor=[2, 4, 6, 8, 10, 12], lw=1.5, tout=2, standoff=0)
ax_style(E.p.yaxis[0], [0, 50, 100], ["0", "50", "100"], lw=1.5, tout=2, standoff=0,
         bounds=(0, 100))
ax_title(E.p.xaxis[0], "Time since mitosis (hr)", 10.5, 0)
txt(stripE, 423, 573, "E", 22)
txt(stripE, 435, 670, "% Rb (S807/811)", 10.5, align="center", angle=math.pi / 2)
rich(E, 532, 631, [("CDK4/6", 0), ("high", 1)], 11, BLUE)
rich(E, 532, 695, [("CDK4/6", 0), ("low", 1)], 11, RED)

# ---------------- layout: three columns ----------------
colA = column(WR(headA), WR(A1), WR(A2), WR(stripX),
              row(WC(stripA3), WC(A3)),
              row(WC(stripC), column(WR(headC), WR(C))))
colH = column(row(WC(L1), column(WR(H1t), WR(H1b))),
              row(WC(L2), column(WR(H2t), WR(H2b))),
              row(WC(L3), column(WR(H3t), WR(H3b))),
              row(WC(stripD), WC(D)))
colB = column(row(WC(stripB1), column(WR(headB1), WR(B1))),
              row(WC(stripB), column(WR(B2), WR(B3), WR(B4))),
              row(WC(stripE), WC(E)))
layout = row(colA, colH, colB)

open("out.html", "w").write(file_html(layout, INLINE, title="Figure"))
